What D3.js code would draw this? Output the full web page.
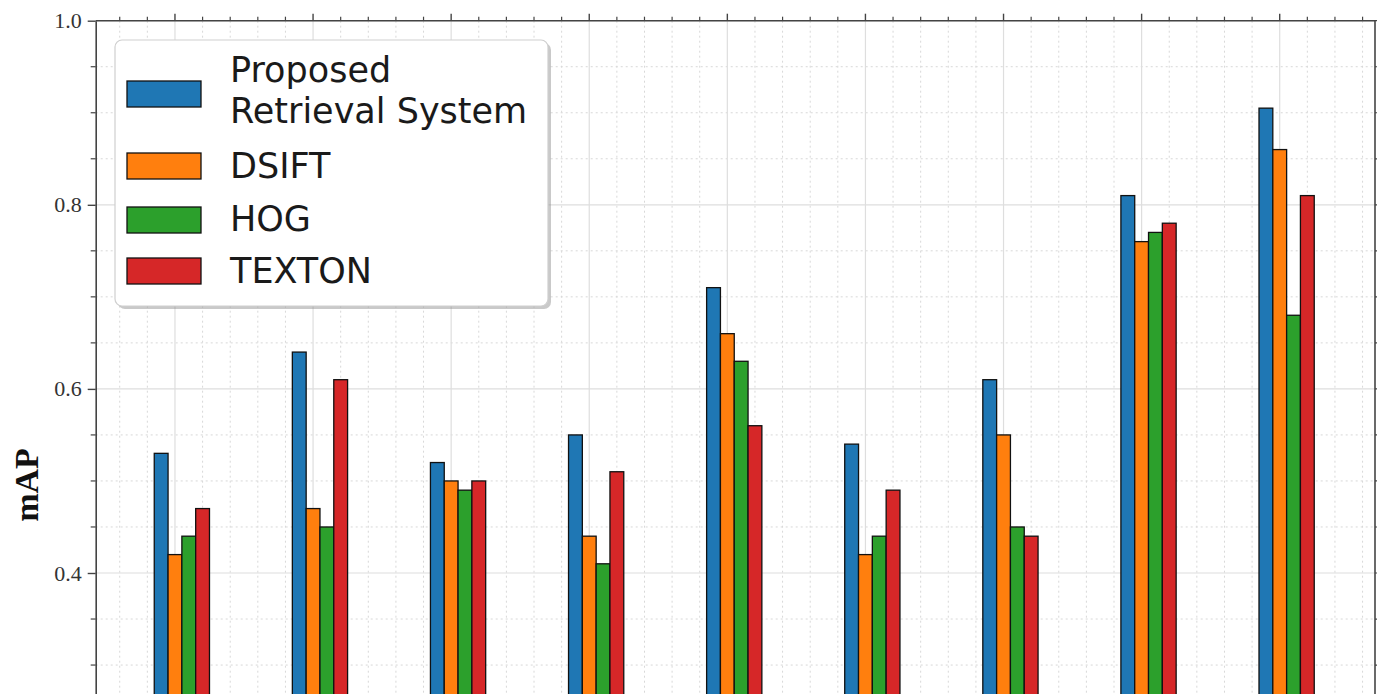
<!DOCTYPE html>
<html>
<head>
<meta charset="utf-8">
<script src="https://cdn.jsdelivr.net/npm/d3@7"></script>
<style>
  html, body { margin: 0; padding: 0; background: #fff; }
  svg { display: block; }
</style>
</head>
<body>
<svg id="chart" width="1377" height="694"></svg>
<script>
// Category positions along x (one group of four bars each)
const categories = [0, 1, 2, 3, 4, 5, 6, 7, 8];

// mAP per method, one value per category
const proposed = [0.53, 0.64, 0.52, 0.55, 0.71, 0.54, 0.61, 0.81, 0.905];
const dsift    = [0.42, 0.47, 0.50, 0.44, 0.66, 0.42, 0.55, 0.76, 0.86];
const hog      = [0.44, 0.45, 0.49, 0.41, 0.63, 0.44, 0.45, 0.77, 0.68];
const texton   = [0.47, 0.61, 0.50, 0.51, 0.56, 0.49, 0.44, 0.78, 0.81];

const seriesNames = ["Proposed\nRetrieval System", "DSIFT", "HOG", "TEXTON"];
const seriesColors = ["#1f77b4", "#ff7f0e", "#2ca02c", "#d62728"];
// labelled y ticks inside the visible window
const yTickLabels = [0.4, 0.6, 0.8, 1.0];

const seriesValues = [proposed, dsift, hog, texton];
const barWidth = 0.1;

const svg = d3.select("#chart");
const plot = { left: 95.7, right: 1375, top: 20.7, bottom: 941.2 };

const x = d3.scaleLinear().domain([-0.574, 8.69]).range([plot.left, plot.right]);
const y = d3.scaleLinear().domain([0, 1.0]).range([plot.bottom, plot.top]);

// Grid: minor (dotted) then major (solid)
const xMinor = d3.range(-0.4, 8.7, 0.2).filter(v => Math.abs(v - Math.round(v)) > 1e-6);
const xMajor = d3.range(0, 9, 1);
const yMinor = d3.range(0.05, 1.0, 0.05).filter(v => Math.abs(v * 5 - Math.round(v * 5)) > 1e-6);
const yMajor = d3.range(0, 1.01, 0.2);

const grid = svg.append("g");
grid.selectAll(".xmin").data(xMinor).join("line")
  .attr("x1", d => x(d)).attr("x2", d => x(d))
  .attr("y1", plot.top).attr("y2", plot.bottom)
  .attr("stroke", "#d8d8d8").attr("stroke-width", 1).attr("stroke-dasharray", "2,3");
grid.selectAll(".ymin").data(yMinor).join("line")
  .attr("x1", plot.left).attr("x2", plot.right)
  .attr("y1", d => y(d)).attr("y2", d => y(d))
  .attr("stroke", "#d8d8d8").attr("stroke-width", 1).attr("stroke-dasharray", "2,3");
grid.selectAll(".xmaj").data(xMajor).join("line")
  .attr("x1", d => x(d)).attr("x2", d => x(d))
  .attr("y1", plot.top).attr("y2", plot.bottom)
  .attr("stroke", "#dedede").attr("stroke-width", 1.2);
grid.selectAll(".ymaj").data(yMajor).join("line")
  .attr("x1", plot.left).attr("x2", plot.right)
  .attr("y1", d => y(d)).attr("y2", d => y(d))
  .attr("stroke", "#dedede").attr("stroke-width", 1.2);

// Bars
const bars = svg.append("g");
seriesValues.forEach((vals, j) => {
  bars.selectAll(".s" + j).data(categories).join("rect")
    .attr("x", c => x(c - 0.15 + j * barWidth))
    .attr("width", x(barWidth) - x(0))
    .attr("y", c => y(vals[c]))
    .attr("height", c => y(0) - y(vals[c]))
    .attr("fill", seriesColors[j])
    .attr("stroke", "#111")
    .attr("stroke-width", 1.3);
});

// Axes (left and top carry ticks; right spine mirrors)
const spineColor = "#444";
const leftAxis = d3.axisLeft(y).tickValues(yTickLabels).tickFormat(d3.format(".1f"))
  .tickSizeInner(8).tickSizeOuter(0).tickPadding(6);
const gL = svg.append("g").attr("transform", `translate(${plot.left},0)`).call(leftAxis);
gL.select(".domain").attr("stroke", spineColor).attr("stroke-width", 1.6);
gL.selectAll(".tick line").attr("stroke", spineColor).attr("stroke-width", 1.4);
gL.selectAll(".tick text").attr("font-family", "'Liberation Serif', serif")
  .attr("font-size", 22).attr("fill", "#333");

// remaining left ticks (minor and the unlabelled major at 0.2)
svg.append("g").selectAll("line").data(yMinor).join("line")
  .attr("x1", plot.left - 5).attr("x2", plot.left)
  .attr("y1", d => y(d)).attr("y2", d => y(d))
  .attr("stroke", spineColor).attr("stroke-width", 1.2);

// top spine with ticks
svg.append("line").attr("x1", plot.left).attr("x2", plot.right)
  .attr("y1", plot.top).attr("y2", plot.top)
  .attr("stroke", spineColor).attr("stroke-width", 1.6);
svg.append("g").selectAll("line").data(xMinor).join("line")
  .attr("x1", d => x(d)).attr("x2", d => x(d))
  .attr("y1", plot.top - 4).attr("y2", plot.top)
  .attr("stroke", spineColor).attr("stroke-width", 1.2);
svg.append("g").selectAll("line").data(xMajor).join("line")
  .attr("x1", d => x(d)).attr("x2", d => x(d))
  .attr("y1", plot.top - 7).attr("y2", plot.top)
  .attr("stroke", spineColor).attr("stroke-width", 1.4);

// right spine with ticks
svg.append("line").attr("x1", plot.right).attr("x2", plot.right)
  .attr("y1", plot.top).attr("y2", plot.bottom)
  .attr("stroke", spineColor).attr("stroke-width", 1.6);
svg.append("g").selectAll("line").data(yMinor.concat(yMajor)).join("line")
  .attr("x1", plot.right).attr("x2", plot.right + 5)
  .attr("y1", d => y(d)).attr("y2", d => y(d))
  .attr("stroke", spineColor).attr("stroke-width", 1.2);

// y-axis title
svg.append("text")
  .attr("transform", `translate(38,485) rotate(-90)`)
  .attr("text-anchor", "middle")
  .attr("font-family", "'Liberation Serif', serif")
  .attr("font-weight", "bold")
  .attr("font-size", 34)
  .attr("fill", "#111")
  .text("mAP");

// Legend
const legend = svg.append("g");
const box = { x: 115, y: 40, w: 433, h: 266 };
legend.append("rect")
  .attr("x", box.x + 3).attr("y", box.y + 3).attr("width", box.w).attr("height", box.h)
  .attr("rx", 7).attr("fill", "#888").attr("opacity", 0.45);
legend.append("rect")
  .attr("x", box.x).attr("y", box.y).attr("width", box.w).attr("height", box.h)
  .attr("rx", 7).attr("fill", "#fff").attr("stroke", "#cfcfcf").attr("stroke-width", 1.2);

const entryPatchY = [81, 153, 207, 258];
const entryBaselines = [[82, 123], [178], [231], [283]];
seriesNames.forEach((name, j) => {
  legend.append("rect")
    .attr("x", 127).attr("y", entryPatchY[j]).attr("width", 74).attr("height", 26)
    .attr("fill", seriesColors[j]).attr("stroke", "#111").attr("stroke-width", 1.3);
  name.split("\n").forEach((line, k) => {
    legend.append("text")
      .attr("x", 230).attr("y", entryBaselines[j][k])
      .attr("font-family", "'DejaVu Sans', sans-serif")
      .attr("font-size", 35).attr("fill", "#1a1a1a")
      .text(line);
  });
});
</script>
</body>
</html>
